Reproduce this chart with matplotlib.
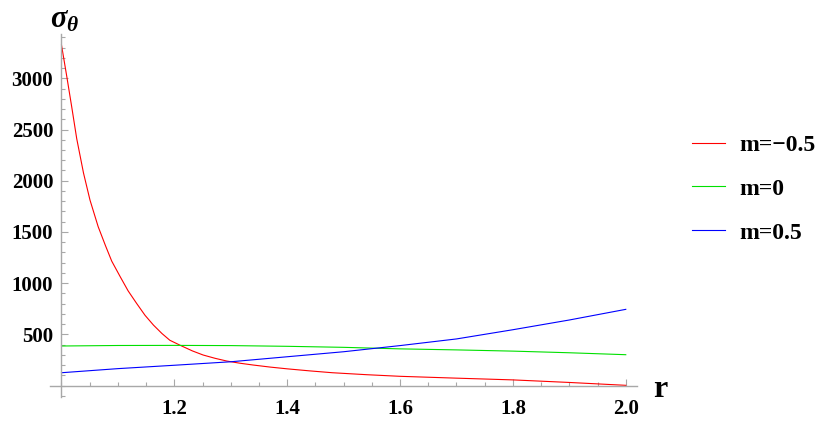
import numpy as np
import matplotlib
matplotlib.use("Agg")
import matplotlib.pyplot as plt
from matplotlib.ticker import MultipleLocator, FixedLocator

plt.rcParams["font.family"] = ["Liberation Serif", "DejaVu Serif"]
plt.rcParams["font.weight"] = "bold"
plt.rcParams["mathtext.fontset"] = "custom"
plt.rcParams["mathtext.it"] = "Liberation Serif:italic:bold"
plt.rcParams["mathtext.rm"] = "Liberation Serif:bold"

# ==========================================
# Data
# ==========================================
r_red = [1.000, 1.009, 1.018, 1.027, 1.039, 1.0505, 1.065, 1.078, 1.089,
         1.104, 1.118, 1.133, 1.148, 1.163, 1.178, 1.192, 1.213, 1.232,
         1.251, 1.272, 1.293, 1.316, 1.340, 1.370, 1.400, 1.440, 1.480,
         1.540, 1.600, 1.700, 1.800, 1.900, 2.000]
s_red = [3325, 3030, 2725, 2410, 2075, 1811, 1551, 1365, 1215,
         1063, 925, 803, 686, 590, 508, 442, 386, 338,
         298, 266, 239, 218, 200, 180, 163, 143, 125,
         106, 90, 72, 55, 30, 2]

r_green = [1.0, 1.1, 1.2, 1.3, 1.4, 1.5, 1.6, 1.7, 1.8, 1.9, 2.0]
s_green = [386, 391, 392, 390, 383, 373, 358, 348, 336, 320, 301]

r_blue = [1.0, 1.1, 1.2, 1.3, 1.4, 1.5, 1.6, 1.7, 1.8, 1.9, 2.0]
s_blue = [125, 165, 198, 232, 281, 330, 390, 455, 545, 640, 744]

labels = ["m=\u22120.5", "m=0", "m=0.5"]
colors = ["#ff0000", "#00e000", "#0000ff"]

x_major = [1.2, 1.4, 1.6, 1.8, 2.0]
y_major = [500, 1000, 1500, 2000, 2500, 3000]

# ==========================================
# Figure
# ==========================================
fig = plt.figure(figsize=(8.29, 4.23), dpi=100)
ax = fig.add_axes([0.0603, 0.0622, 0.7081, 0.8567])

for rr, ss, lab, col in zip([r_red, r_green, r_blue],
                            [s_red, s_green, s_blue], labels, colors):
    ax.plot(rr, ss, color=col, linewidth=0.8, label=lab)

ax.set_xlim(0.9796, 2.0199)
ax.set_ylim(-109, 3430)

axis_col = "#a8a8a8"
for side in ["top", "right"]:
    ax.spines[side].set_visible(False)
ax.spines["left"].set_position(("data", 1.0))
ax.spines["bottom"].set_position(("data", 0))
for side in ["left", "bottom"]:
    ax.spines[side].set_color(axis_col)
    ax.spines[side].set_linewidth(1.0)

ax.xaxis.set_major_locator(FixedLocator(x_major))
ax.xaxis.set_minor_locator(MultipleLocator(0.05))
ax.yaxis.set_major_locator(FixedLocator(y_major))
ax.yaxis.set_minor_locator(MultipleLocator(100))
ax.set_xticklabels([f"{v:.1f}" for v in x_major])
ax.set_yticklabels([str(v) for v in y_major])

ax.tick_params(which="both", direction="in", color=axis_col, width=0.8,
               labelsize=15)
ax.tick_params(which="major", length=5)
ax.tick_params(which="minor", length=3)
ax.tick_params(axis="x", which="major", pad=10)
ax.tick_params(axis="y", which="major", pad=6)

fig.text(653 / 829, 1 - 397 / 423, "r", fontsize=23, fontweight="bold",
         ha="left", va="baseline")
fig.text(50 / 829, 1 - 20 / 423, r"$\sigma_\theta$", fontsize=22,
         ha="left", va="center")

ax.legend(loc="center left", bbox_to_anchor=(683 / 829, 1 - 189 / 423),
          bbox_transform=fig.transFigure, frameon=False, fontsize=17,
          handlelength=1.4, handletextpad=0.6, labelspacing=0.95,
          borderaxespad=0)

fig.savefig("out.png", dpi=100)
